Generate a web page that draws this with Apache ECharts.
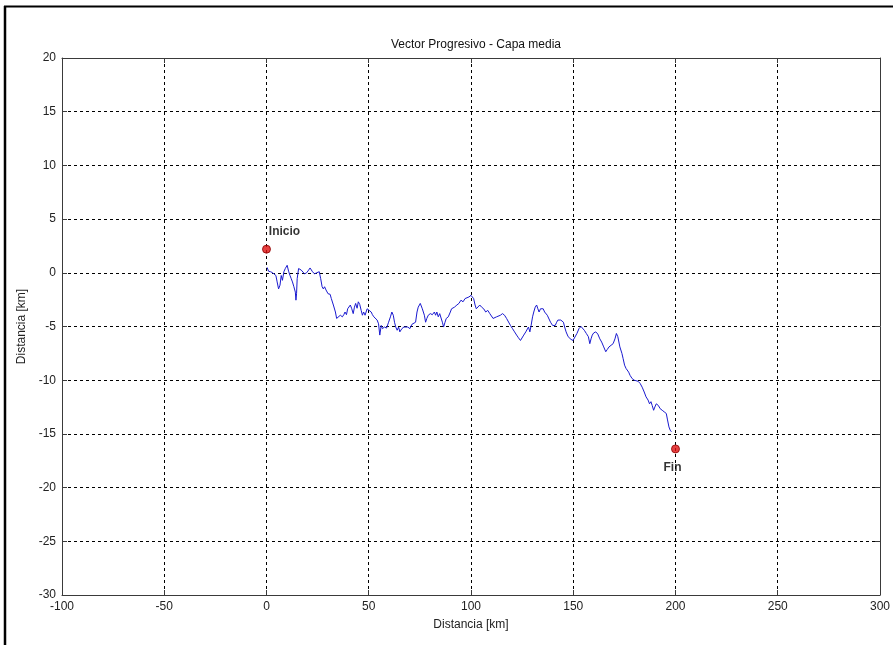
<!DOCTYPE html>
<html>
<head>
<meta charset="utf-8">
<script src="https://cdn.jsdelivr.net/npm/echarts@6/dist/echarts.min.js"></script>
<style>
  html, body { margin: 0; padding: 0; background: #ffffff; }
  #chart { width: 893px; height: 645px; }
</style>
</head>
<body>
<div id="chart"></div>
<script>
// Trajectory of the progressive vector (x, y in km)
const trackX = [
  0.3, 1.0, 2.0, 3.0, 3.9, 4.6, 5.2, 5.9, 6.6, 7.2, 7.8, 8.5, 9.2, 9.8, 10.1, 10.8, 11.5, 12.1, 12.7, 13.4,
  14.1, 14.4, 14.7, 15.0, 15.7, 16.4, 17.0, 17.6, 18.6, 19.6, 20.6, 21.3, 21.9, 22.5, 23.5, 24.5, 25.2, 25.8, 26.5, 27.2,
  27.8, 28.4, 29.1, 30.1, 31.1, 31.7, 32.7, 33.7, 34.3, 35.1, 36.1, 37.1, 37.8, 38.4, 39.1, 39.7, 40.4, 41.0, 41.7, 42.4,
  43.0, 43.6, 44.3, 44.9, 45.6, 46.3, 46.9, 47.5, 48.2, 49.2, 50.2, 51.2, 51.8, 52.5, 53.4, 54.1, 54.8, 55.4, 56.1, 56.7,
  57.7, 58.7, 59.7, 60.6, 61.3, 62.0, 62.6, 63.2, 63.9, 64.6, 65.2, 66.2, 67.2, 68.1, 69.1, 70.1, 71.1, 71.9, 72.9, 73.6,
  74.2, 75.2, 76.2, 77.2, 77.8, 78.4, 79.1, 80.1, 81.1, 82.1, 82.7, 83.3, 84.0, 84.7, 85.3, 86.0, 86.6, 87.3, 87.9, 88.9,
  89.9, 90.5, 91.2, 91.9, 92.5, 93.1, 94.1, 95.1, 96.1, 97.1, 98.0, 99.0, 100.0, 100.7, 101.3, 102.0, 102.6, 103.3, 104.3, 105.2,
  106.2, 107.2, 108.2, 109.2, 110.1, 110.8, 111.5, 112.5, 113.4, 114.4, 115.4, 116.4, 117.4, 118.3, 119.3, 120.3, 121.3, 122.3, 123.2, 124.2,
  124.9, 125.8, 126.8, 127.5, 128.1, 128.8, 129.4, 130.1, 130.7, 131.4, 132.1, 132.7, 133.3, 134.0, 134.7, 135.3, 136.0, 136.6, 137.3, 137.9,
  138.9, 139.9, 140.5, 141.2, 141.9, 142.5, 143.2, 143.9, 144.5, 145.2, 145.8, 146.5, 147.5, 148.9, 149.9, 150.8, 151.8, 152.8, 153.8, 154.4,
  155.4, 156.4, 157.4, 158.1, 158.7, 159.3, 160.0, 161.0, 162.0, 163.0, 163.9, 164.9, 165.9, 166.6, 167.5, 168.5, 169.5, 170.4, 171.1, 171.8,
  172.8, 173.8, 174.4, 175.1, 175.8, 176.4, 177.1, 177.8, 178.8, 179.8, 180.7, 181.7, 182.7, 183.7, 184.7, 185.6, 186.6, 187.3, 188.0, 188.6,
  189.3, 189.9, 190.6, 191.6, 192.5, 193.5, 194.5, 195.5, 196.1, 196.8, 197.4, 198.0
];
const trackY = [
  0.5, 0.15, 0.1, 0.0, -0.1, -0.25, -0.85, -1.5, -1.15, -0.25, -0.7, 0.1, 0.4, 0.55, 0.7, 0.15, -0.25, -0.55, -0.85, -1.3,
  -1.8, -2.55, -1.95, -0.55, 0.4, 0.5, 0.25, 0.1, -0.1, 0.0, 0.25, 0.45, 0.4, 0.1, -0.1, 0.0, -0.1, 0.1, -0.55, -1.3,
  -1.5, -1.3, -1.6, -1.95, -2.0, -2.4, -3.0, -3.65, -4.25, -4.15, -3.95, -4.1, -3.9, -3.65, -3.9, -3.35, -3.5, -3.0, -3.35, -3.8,
  -3.2, -2.85, -3.3, -2.7, -2.95, -3.5, -3.95, -3.65, -3.95, -3.35, -3.5, -3.65, -3.9, -4.1, -4.25, -4.4, -4.75, -5.8, -4.9, -5.2,
  -5.05, -5.15, -4.6, -4.1, -3.65, -3.95, -4.6, -5.05, -5.35, -5.05, -5.5, -5.2, -5.05, -5.2, -5.05, -5.2, -4.8, -4.75, -4.6, -3.65,
  -3.2, -2.85, -3.35, -3.95, -4.6, -4.25, -3.95, -3.8, -3.9, -3.65, -3.95, -3.65, -4.1, -3.8, -3.95, -4.6, -5.05, -4.6, -4.25, -4.1,
  -3.65, -3.35, -3.5, -3.2, -3.35, -3.0, -2.85, -2.55, -2.7, -2.4, -2.45, -2.25, -2.1, -2.0, -2.4, -3.0, -3.35, -3.2, -3.0, -3.2,
  -3.35, -3.65, -3.5, -3.8, -3.95, -4.25, -4.4, -4.1, -4.25, -3.95, -3.8, -3.95, -4.25, -4.4, -4.9, -5.2, -5.5, -5.8, -6.05, -6.3,
  -6.15, -5.8, -5.5, -5.35, -5.05, -5.5, -4.9, -4.1, -3.65, -3.2, -3.0, -3.35, -3.65, -3.35, -3.5, -3.35, -3.65, -3.6, -3.95, -4.1,
  -4.6, -4.9, -5.05, -4.9, -4.6, -4.4, -4.25, -4.4, -4.25, -4.6, -5.05, -5.5, -5.95, -6.2, -6.3, -6.15, -5.65, -5.2, -5.0, -5.05,
  -5.35, -5.65, -5.95, -6.6, -6.15, -5.8, -5.6, -5.5, -5.7, -6.15, -6.45, -6.9, -7.35, -7.15, -6.9, -6.75, -6.6, -6.15, -5.65, -5.95,
  -6.9, -7.5, -8.0, -8.6, -8.9, -8.75, -9.25, -9.55, -9.85, -10.0, -9.95, -10.1, -10.3, -10.65, -11.1, -11.55, -11.85, -12.2, -12.0, -12.35,
  -12.8, -12.5, -12.2, -12.35, -12.65, -12.8, -12.95, -13.1, -13.7, -14.35, -14.65, -14.8
];

// Start and end markers
const markerNames = ['Inicio', 'Fin'];
const markerX = [0, 200];
const markerY = [2.2, -16.4];

// Axis ranges and tick spacing
const xRange = [-100, 300];
const xStep = 50;
const yRange = [-30, 20];
const yStep = 5;

const chartTitle = 'Vector Progresivo - Capa media';
const xName = 'Distancia [km]';
const yName = 'Distancia [km]';

const FONT = '"Liberation Sans", Arial, sans-serif';
const AXIS_COLOR = '#3a3a3a';
const TEXT_COLOR = '#222222';

const chart = echarts.init(document.getElementById('chart'), null, { renderer: 'canvas' });

const gridLine = { show: true, lineStyle: { color: '#000000', width: 1, type: [3, 3] } };

function mainX() {
  return {
    type: 'value', min: xRange[0], max: xRange[1], interval: xStep,
    position: 'bottom',
    name: xName, nameLocation: 'middle', nameGap: 24,
    nameTextStyle: { fontFamily: FONT, fontSize: 12, color: TEXT_COLOR },
    axisLine: { show: true, onZero: false, lineStyle: { color: AXIS_COLOR, width: 1 } },
    axisTick: { show: true, inside: true, length: 5, lineStyle: { color: AXIS_COLOR } },
    axisLabel: { fontFamily: FONT, fontSize: 12, color: TEXT_COLOR, margin: 6, showMinLabel: true, showMaxLabel: true },
    splitLine: gridLine
  };
}
function mainY() {
  return {
    type: 'value', min: yRange[0], max: yRange[1], interval: yStep,
    position: 'left',
    name: yName, nameLocation: 'middle', nameGap: 33, nameRotate: 90,
    nameTextStyle: { fontFamily: FONT, fontSize: 12, color: TEXT_COLOR },
    axisLine: { show: true, onZero: false, lineStyle: { color: AXIS_COLOR, width: 1 } },
    axisTick: { show: true, inside: true, length: 5, lineStyle: { color: AXIS_COLOR } },
    axisLabel: { fontFamily: FONT, fontSize: 12, color: TEXT_COLOR, margin: 6, showMinLabel: true, showMaxLabel: true },
    splitLine: gridLine
  };
}
// Mirror axes closing the box on the top and right sides
function boxAxis(pos, range, step) {
  return {
    type: 'value', min: range[0], max: range[1], interval: step, position: pos,
    axisLine: { show: true, onZero: false, lineStyle: { color: AXIS_COLOR, width: 1 } },
    axisTick: { show: true, inside: true, length: 5, lineStyle: { color: AXIS_COLOR } },
    axisLabel: { show: false },
    splitLine: { show: false }
  };
}

const trackData = trackX.map((x, i) => [x, trackY[i]]);
const labelOffsets = { 'Inicio': [18, -17], 'Fin': [-3, 19] };
const markerData = markerNames.map((n, i) => ({
  name: n,
  value: [markerX[i], markerY[i]],
  label: { offset: labelOffsets[n] }
}));

chart.setOption({
  backgroundColor: '#ffffff',
  animation: false,
  title: {
    text: chartTitle, left: 471, top: 34, textAlign: 'center',
    textStyle: { fontFamily: FONT, fontSize: 12, fontWeight: 'normal', color: '#111111' }
  },
  grid: { left: 62, right: 13, top: 58, bottom: 50, containLabel: false },
  xAxis: [mainX(), boxAxis('top', xRange, xStep)],
  yAxis: [mainY(), boxAxis('right', yRange, yStep)],
  series: [
    {
      type: 'line', data: trackData, xAxisIndex: 0, yAxisIndex: 0,
      showSymbol: false, symbol: 'none',
      lineStyle: { color: '#1a1ad0', width: 1 },
      z: 3
    },
    {
      type: 'scatter', data: markerData, xAxisIndex: 0, yAxisIndex: 0,
      symbol: 'circle', symbolSize: 8,
      itemStyle: { color: '#e01010', borderColor: '#8a0000', borderWidth: 1 },
      label: {
        show: true, position: 'inside', formatter: '{b}',
        fontFamily: FONT, fontSize: 12, fontWeight: 'bold', color: '#000000'
      },
      z: 4
    }
  ],
  graphic: [
    // figure frame on the left and top edges
    { type: 'line', shape: { x1: 5, y1: 6, x2: 5, y2: 645 }, style: { stroke: '#000000', lineWidth: 2.5 } },
    { type: 'line', shape: { x1: 4, y1: 6.5, x2: 893, y2: 6.5 }, style: { stroke: '#000000', lineWidth: 2 } }
  ]
});
</script>
</body>
</html>
